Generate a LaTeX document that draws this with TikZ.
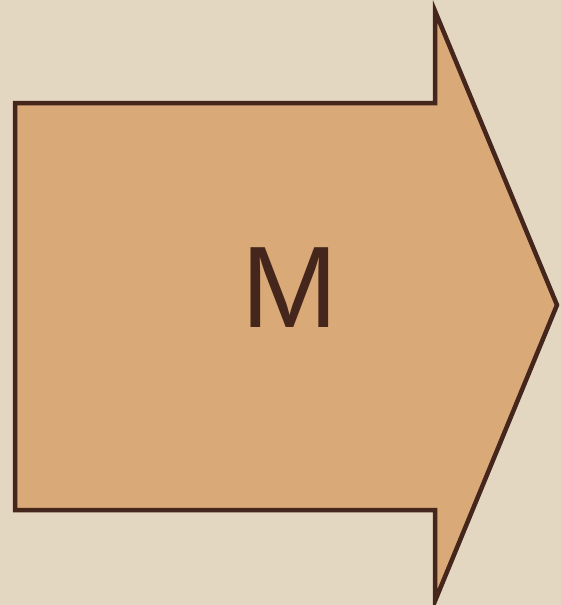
\documentclass[tikz,border=0pt]{standalone}
\usepackage{fontspec}
\newfontfamily\letterfont{Liberation Sans}
\definecolor{paper}{HTML}{E4D7C1}
\definecolor{kraft}{HTML}{D9A977}
\definecolor{ink}{HTML}{45261C}

\begin{document}
\begin{tikzpicture}[
  x=1pt, y=-1pt,
  bigarrow/.style={draw=ink, fill=kraft, line width=4.5pt, line join=miter},
  lettr/.style={text=ink, inner sep=0pt, font=\letterfont\fontsize{116}{116}\selectfont}
]
% ----- paper background -----
\fill[paper] (0,0) rectangle (561,605);
\useasboundingbox (0,0) rectangle (561,605);
% ----- arrow -----
\draw[bigarrow] (15,103) -- (435,103) -- (435,11) -- (557,305) -- (435,601)
  -- (435,510) -- (15,510) -- cycle;
% ----- letter -----
\node[lettr] (mark) at (290,288) {M};
\end{tikzpicture}
\end{document}
